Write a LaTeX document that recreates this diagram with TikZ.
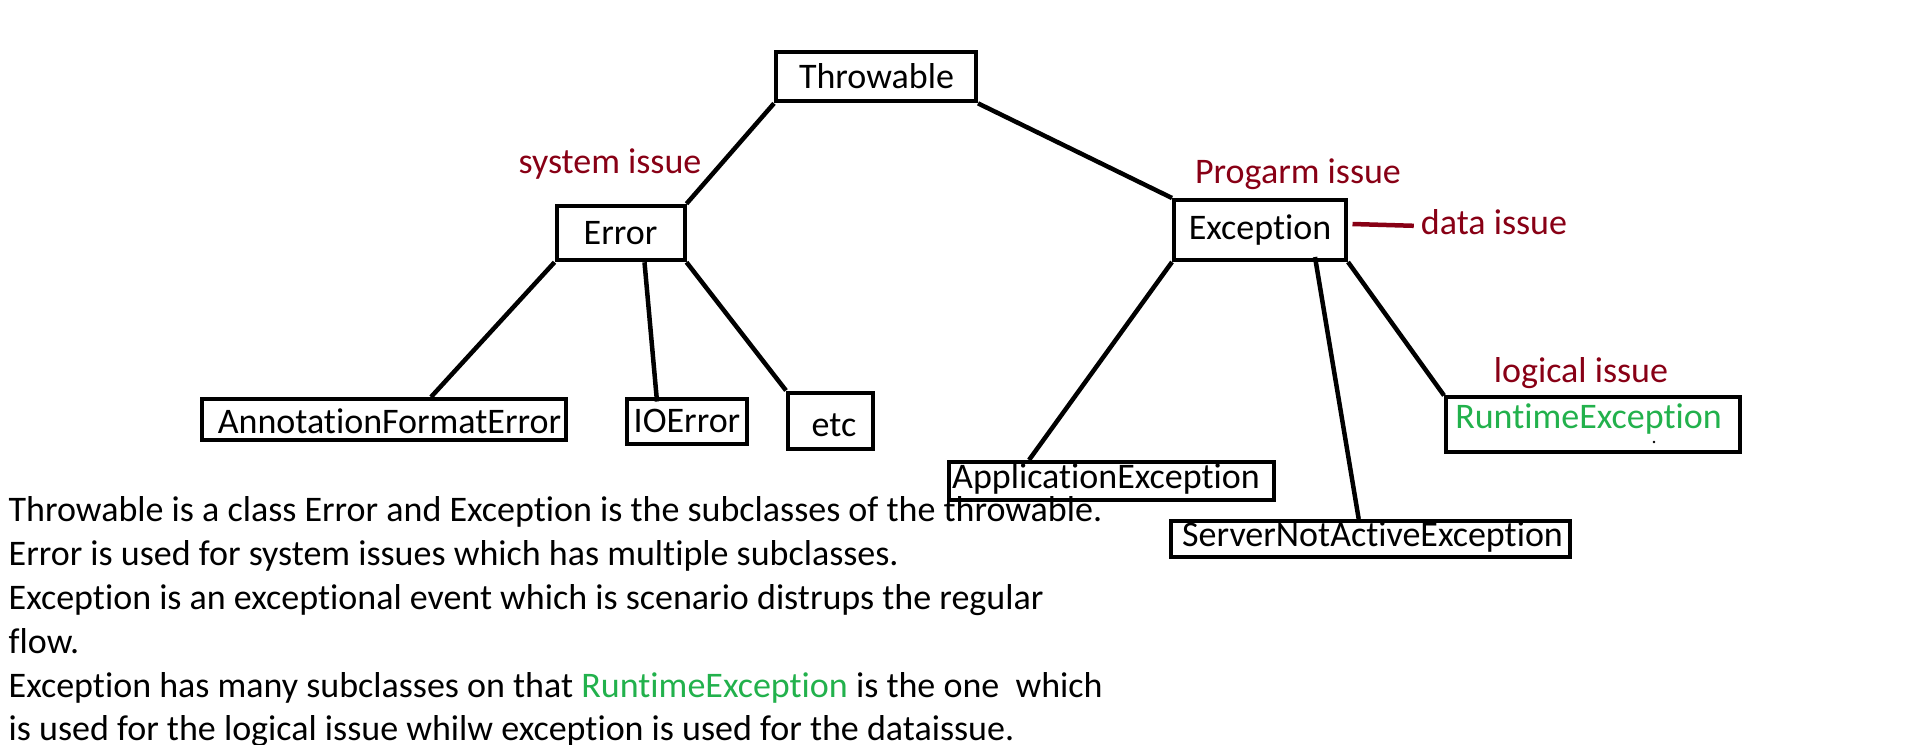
\documentclass[tikz,border=0pt]{standalone}
\usepackage{fontspec}
\setmainfont{Carlito}[Ligatures=NoCommon]
\usetikzlibrary{calc}
\definecolor{paintred}{RGB}{136,0,21}
\definecolor{paintgreen}{RGB}{34,177,76}
\begin{document}
\begin{tikzpicture}[x=1pt,y=-1pt,
  font=\fontsize{36}{44}\selectfont,
  box/.style={draw=black, line width=4pt, inner sep=0pt},
  txt/.style={inner sep=0pt},
  lbl/.style={inner sep=0pt, text=paintred},
  conn/.style={draw=black, line width=4.5pt},
  redline/.style={draw=paintred, line width=4.5pt},
  para/.style={inner sep=0pt, anchor=base west}]
\useasboundingbox (0,0) rectangle (1914,753);
% description text
\node[para] (d1) at (8.5,521) {Throwable is a class Error and Exception is the subclasses of the throwable.};
\node[para] (d2) at (8.5,565) {Error is used for system issues which has multiple subclasses.};
\node[para] (d3) at (8.5,609) {Exception is an exceptional event which is scenario distrups the regular};
\node[para] (d4) at (8.5,653) {flow.};
\node[para] (d5) at (8.5,697) {Exception has many subclasses on that \textcolor{paintgreen}{RuntimeException} is the one\ \ which};
\begin{scope}
\clip (0,0) rectangle (1914,744);
\node[para] (d6) at (8.5,740) {is used for the logical issue whilw exception is used for the dataissue.};
\end{scope}
% boxes
\node[box, minimum width=200, minimum height=49.3] (thr) at (876,76.7) {};
\node[txt, anchor=base] (thrt) at (876.5,88) {Throwable};
\node[box, minimum width=128, minimum height=54.5] (err) at (620.5,233) {Error};
\node[box, minimum width=172, minimum height=60] (exc) at (1260,230) {Exception};
\node[box, minimum width=364, minimum height=41] (afe) at (384,419.5) {};
\node[txt] (afet) at (389.5,421) {AnnotationFormatError};
\node[box, minimum width=120, minimum height=45] (ioe) at (687,421) {IOError};
\node[box, minimum width=85, minimum height=56] (etc) at (830.5,420.5) {};
\node[txt] (etct) at (834,425) {etc};
\node[box, minimum width=325, minimum height=38] (app) at (1111,481) {};
\node[txt] (appt) at (1106,478.5) {ApplicationException};
\node[box, minimum width=399, minimum height=36] (srv) at (1370.7,539) {};
\node[txt] (srvt) at (1372.5,537) {ServerNotActiveException};
\node[box, minimum width=294, minimum height=54.5] (rt) at (1593,424.7) {};
\node[txt, text=paintgreen] (rtt) at (1588.5,418.7) {RuntimeException};
\fill (1654,442) circle (1.3);
% labels
\node[lbl] (sys) at (610,163.6) {system issue};
\node[lbl] (prg) at (1298,174.6) {Progarm issue};
\node[lbl] (dat) at (1494,222) {data issue};
\node[lbl] (log) at (1581,373.5) {logical issue};
% connectors
\draw[conn] (thr.south west) -- (err.north east);
\draw[conn] (thr.south east) -- (exc.north west);
\draw[conn] (err.south west) -- ($(afe.north west)+(231,0)$);
\draw[conn] ($(err.south)+(24,0)$) -- ($(ioe.north)+(-30,5)$);
\draw[conn] (err.south east) -- (etc.north west);
\draw[conn] (exc.south west) -- ($(app.north west)+(82.5,0)$);
\draw[conn] ($(exc.south)+(55,-5)$) -- ($(srv.north)+(-12,0)$);
\draw[conn] (exc.south east) -- (rt.north west);
\draw[redline] ($(exc.east)+(4.5,-6)$) -- ($(dat.west)+(-7,3.8)$);
\end{tikzpicture}
\end{document}
